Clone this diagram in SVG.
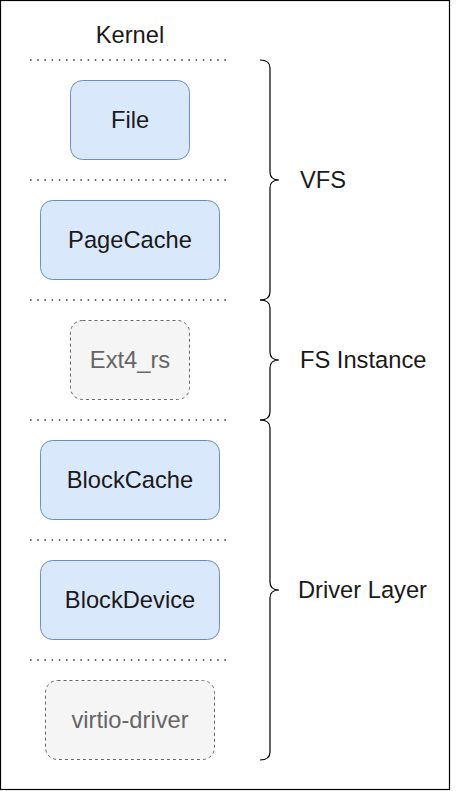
<svg xmlns="http://www.w3.org/2000/svg" width="457" height="791" viewBox="0 0 457 791">
<style>
  text { font-family: "Liberation Sans", Arial, sans-serif; font-size: 23.7px; }
  .lbl { fill: #1a1a1a; text-anchor: middle; }
  .side { fill: #1a1a1a; }
  .blue { fill: #dae8fc; stroke: #6c8ebf; stroke-width: 1; }
  .gray { fill: #f5f5f5; stroke: #666666; stroke-width: 1; stroke-dasharray: 3 3; }
  .gtxt { fill: #666666; text-anchor: middle; }
  .dot { stroke: #333333; stroke-width: 1.5; stroke-dasharray: 1.5 5.7; fill: none; }
  .brace { fill: none; stroke: #000000; stroke-width: 1.2; }
</style>
<rect x="0" y="0" width="457" height="791" fill="#ffffff"/>
<rect id="frame" x="0.5" y="0.5" width="449" height="789" fill="none" stroke="#000000" stroke-width="1.2"/>
<text id="kernel" class="lbl" x="130" y="43">Kernel</text>
<g id="separators">
  <line class="dot" x1="30" y1="60" x2="226" y2="60"/>
  <line class="dot" x1="30" y1="180" x2="226" y2="180"/>
  <line class="dot" x1="30" y1="300" x2="226" y2="300"/>
  <line class="dot" x1="30" y1="420" x2="226" y2="420"/>
  <line class="dot" x1="30" y1="540" x2="226" y2="540"/>
  <line class="dot" x1="30" y1="660" x2="226" y2="660"/>
</g>
<g id="file">
  <rect class="blue" x="70.5" y="80.5" width="119" height="79" rx="12"/>
  <text class="lbl" x="130" y="128">File</text>
</g>
<g id="pagecache">
  <rect class="blue" x="40.5" y="200.5" width="179" height="79" rx="12"/>
  <text class="lbl" x="130" y="248">PageCache</text>
</g>
<g id="ext4rs">
  <rect class="gray" x="70.5" y="320.5" width="119" height="79" rx="12"/>
  <text class="gtxt" x="130" y="368">Ext4_rs</text>
</g>
<g id="blockcache">
  <rect class="blue" x="40.5" y="440.5" width="179" height="79" rx="12"/>
  <text class="lbl" x="130" y="488">BlockCache</text>
</g>
<g id="blockdevice">
  <rect class="blue" x="40.5" y="560.5" width="179" height="79" rx="12"/>
  <text class="lbl" x="130" y="608">BlockDevice</text>
</g>
<g id="virtio">
  <rect class="gray" x="45.5" y="680.5" width="169" height="79" rx="12"/>
  <text class="gtxt" x="130" y="728">virtio-driver</text>
</g>
<g id="braces">
  <path class="brace" d="M260,60 Q270,60 270,68 L270,172 Q270,180 279,180 Q270,180 270,188 L270,292 Q270,300 260,300"/>
  <path class="brace" d="M260,300 Q270,300 270,308 L270,352 Q270,360 279,360 Q270,360 270,368 L270,412 Q270,420 260,420"/>
  <path class="brace" d="M260,420 Q270,420 270,428 L270,582 Q270,590 279,590 Q270,590 270,598 L270,752 Q270,760 260,760"/>
</g>
<g id="labels">
  <text class="side" x="300" y="188">VFS</text>
  <text class="side" x="300" y="368">FS Instance</text>
  <text class="side" x="298" y="598">Driver Layer</text>
</g>
</svg>
